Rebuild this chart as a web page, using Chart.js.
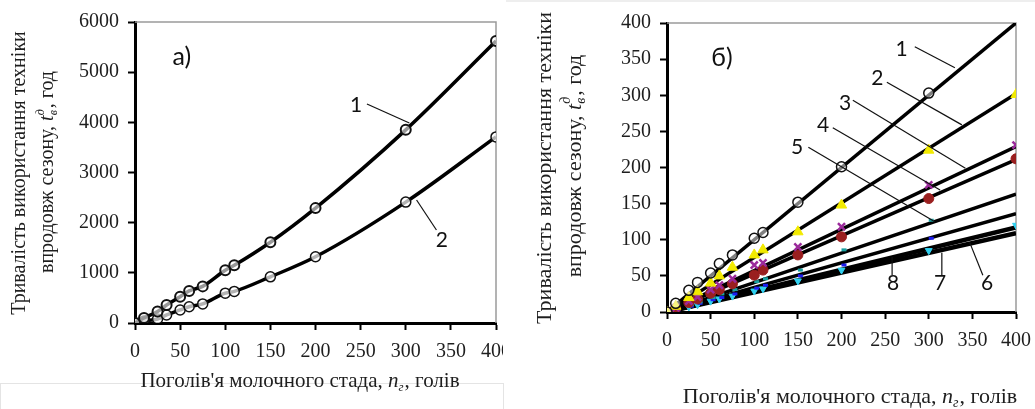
<!DOCTYPE html>
<html>
<head>
<meta charset="utf-8">
<script src="https://cdn.jsdelivr.net/npm/chart.js@4.4.1/dist/chart.umd.min.js"></script>
<style>
    html, body { margin: 0; padding: 0; background: #fff; }
    body { width: 1035px; height: 409px; position: relative; overflow: hidden; }
    #chartA { position: absolute; left: 0; top: 0; }
    #chartB { position: absolute; left: 505px; top: 0; }
    .frame { position: absolute; left: 0; top: 383px; width: 502px; height: 40px; border: 1px solid #e4e4e4; }
    .topline { position: absolute; left: 506px; top: 0; width: 529px; height: 2px; background: #eee; }
</style>
</head>
<body>
<div class="frame"></div>
<div class="topline"></div>
<canvas id="chartA" width="503" height="409"></canvas>
<canvas id="chartB" width="530" height="409"></canvas>
<script>
        // ---- data: chart a) ----
        const herdA = [0, 10, 25, 35, 50, 60, 75, 100, 110, 150, 200, 300, 400];
        const timeA1 = [0, 100, 230, 360, 525, 640, 730, 1050, 1150, 1610, 2290, 3850, 5620];
        const timeA2 = [0, 40, 80, 160, 260, 325, 380, 595, 630, 920, 1320, 2410, 3710];

        // ---- data: chart б) ----
        const herdB = [0, 10, 25, 35, 50, 60, 75, 100, 110, 150, 200, 300, 400];
        const timeB1 = [0, 12, 30, 41, 54, 67, 79, 102, 110, 152, 201, 303, null];
        const timeB2 = [0, 8, 20, 28, 40, 50, 62, 79, 86, 111, 148, 224, 301];
        const timeB3 = [0, 6, 15, 21, 31, 37, 46, 65, 68, 90, 118, 176, 231];
        const timeB4 = [0, 5, 13, 18, 26, 31, 39, 51, 58, 79, 104, 157, 212];
        const timeB5 = [0, 4, 10, 14, 20, 25, 31, 42, 46, 58, 86, 127, 162];
        const timeB6 = [0, 3, 8, 12, 17, 20, 25, 33, 37, 50, 65, 102, 135];
        const timeB7 = [0, 3, 7, 10, 15, 18, 22, 29, 32, 43, 58, 85, 120];
        // trend lines of chart б): value at herd 0 and herd 400
        const trendX = [0, 400];
        const trendB = [[0, 400], [0, 302], [0, 229], [0, 211], [0, 163], [0, 136], [0, 117], [0, 109]];

        const serif = '"Liberation Serif", "Times New Roman", serif';
        const ink = '#1e1e1e';

        Chart.defaults.font.family = serif;
        Chart.defaults.font.size = 20;
        Chart.defaults.color = ink;

        const xy = (xs, ys) => xs.map((x, i) => ({ x: x, y: ys[i] }));

        // text with italic parts and stacked sub/superscripts
        function drawRich(ctx, segs, cx, cy, size) {
            const base = size + 'px ' + serif;
            const ital = 'italic ' + base;
            const small = 'italic ' + Math.round(size * 0.62) + 'px ' + serif;
            const widths = segs.map(s => {
                if (s.sub !== undefined) {
                    ctx.font = small;
                    return Math.max(ctx.measureText(s.sup || '').width, ctx.measureText(s.sub).width) + 1;
                }
                ctx.font = s.i ? ital : base;
                return ctx.measureText(s.t).width;
            });
            let x = cx - widths.reduce((a, b) => a + b, 0) / 2;
            ctx.textAlign = 'left';
            ctx.textBaseline = 'middle';
            segs.forEach((s, k) => {
                if (s.sub !== undefined) {
                    ctx.font = small;
                    if (s.sup) ctx.fillText(s.sup, x, cy - size * 0.38);
                    ctx.fillText(s.sub, x, cy + size * 0.3);
                } else {
                    ctx.font = s.i ? ital : base;
                    ctx.fillText(s.t, x, cy);
                }
                x += widths[k];
            });
        }

        const xTitle = [{ t: "Поголів'я молочного стада, " }, { t: 'n', i: true }, { sub: 'г' }, { t: ', голів' }];
        const yTitle1 = [{ t: 'Тривалість використання техніки' }];
        const yTitle2 = [{ t: 'впродовж сезону, ' }, { t: 't', i: true }, { sup: 'д', sub: 'в' }, { t: ', год' }];

        // frame (thin grey top and right edge) + titles + labels
        const decor = {
            id: 'decor',
            beforeDatasetsDraw(chart) {
                const { ctx, chartArea: a } = chart;
                ctx.save();
                ctx.strokeStyle = '#9a9a9a';
                ctx.lineWidth = 1.5;
                ctx.beginPath();
                ctx.moveTo(a.left, a.top);
                ctx.lineTo(a.right, a.top);
                ctx.lineTo(a.right, a.bottom);
                ctx.stroke();
                ctx.restore();
            },
            afterDraw(chart, args, o) {
                const { ctx, scales: { x, y } } = chart;
                ctx.save();
                ctx.fillStyle = ink;
                drawRich(ctx, xTitle, o.xTitle[0], o.xTitle[1], o.xSize);
                [[yTitle1, o.yTitle[0]], [yTitle2, o.yTitle[1]]].forEach(([segs, p]) => {
                    ctx.save();
                    ctx.translate(p[0], p[1]);
                    ctx.rotate(-Math.PI / 2);
                    drawRich(ctx, segs, 0, 0, o.ySize);
                    ctx.restore();
                });
                // leader lines
                ctx.strokeStyle = '#111';
                ctx.lineWidth = 1.2;
                o.leaders.forEach(l => {
                    ctx.beginPath();
                    ctx.moveTo(x.getPixelForValue(l[0]), y.getPixelForValue(l[1]));
                    ctx.lineTo(x.getPixelForValue(l[2]), y.getPixelForValue(l[3]));
                    ctx.stroke();
                });
                ctx.textAlign = 'center';
                ctx.textBaseline = 'middle';
                ctx.fillStyle = '#111';
                o.labels.forEach(l => {
                    ctx.font = l[3] + 'px Lato, "Open Sans", sans-serif';
                    ctx.fillText(l[0], x.getPixelForValue(l[1]), y.getPixelForValue(l[2]));
                });
                ctx.restore();
            }
        };

        function axes(xMax, yMax, yStep, yWidth, xHeight) {
            const tickFont = { family: serif, size: 20 };
            const grid = { drawOnChartArea: false, drawTicks: true, tickLength: 7, tickColor: '#000', tickWidth: 2 };
            const border = { display: true, color: '#000', width: 3 };
            return {
                x: {
                    type: 'linear', min: 0, max: xMax, border: border, grid: grid,
                    ticks: { font: tickFont, color: ink, stepSize: 50, padding: 10, maxRotation: 0, autoSkip: false,
                             callback: v => String(v) },
                    afterFit(s) { s.height = xHeight; s.paddingRight = 0; s.paddingLeft = 0; }
                },
                y: {
                    type: 'linear', min: 0, max: yMax, border: border, grid: grid,
                    ticks: { font: tickFont, color: ink, stepSize: yStep, padding: 9, callback: v => String(v) },
                    afterFit(s) { s.width = yWidth; }
                }
            };
        }

        // Chart a)
        new Chart(document.getElementById('chartA'), {
            type: 'scatter',
            data: {
                datasets: [
                    { data: xy(herdA, timeA1), showLine: true, borderColor: '#000', borderWidth: 3.5, cubicInterpolationMode: 'monotone',
                      pointStyle: 'circle', pointRadius: 5, pointBorderWidth: 2, pointBorderColor: '#111', pointBackgroundColor: 'rgba(255,255,255,0.6)' },
                    { data: xy(herdA, timeA2), showLine: true, borderColor: '#000', borderWidth: 3.5, cubicInterpolationMode: 'monotone',
                      pointStyle: 'circle', pointRadius: 5, pointBorderWidth: 1.5, pointBorderColor: '#111', pointBackgroundColor: 'rgba(255,255,255,0.7)' }
                ]
            },
            options: {
                responsive: false,
                animation: false,
                layout: { padding: { left: 0, top: 22, right: 6, bottom: 0 } },
                scales: axes(400, 6000, 1000, 135, 86),
                plugins: {
                    legend: { display: false },
                    tooltip: { enabled: false },
                    decor: {
                        xSize: 21, ySize: 20,
                        xTitle: [300, 381],
                        yTitle: [[20, 173], [48, 172]],
                        leaders: [[257, 4365, 304, 3986], [334, 1854, 312, 2452]],
                        labels: [['а)', 52, 5302, 25], ['1', 245, 4345, 21], ['2', 340, 1654, 21]]
                    }
                }
            },
            plugins: [decor]
        });

        // Chart б)
        const markerSets = [
            { d: timeB1, style: 'circle', r: 5, fill: 'rgba(255,255,255,0.5)', edge: '#111', w: 1.5 },
            { d: timeB2, style: 'triangle', r: 6, fill: '#f2ea00', edge: '#f2ea00', w: 1 },
            { d: timeB3, style: 'crossRot', r: 5, fill: '#9b2a9b', edge: '#9b2a9b', w: 2.5 },
            { d: timeB4, style: 'circle', r: 5, fill: '#9a1f1f', edge: '#9a1f1f', w: 1 },
            { d: timeB5, style: 'dash', r: 5, fill: '#1aa0a0', edge: '#1aa0a0', w: 3 },
            { d: timeB6, style: 'dash', r: 5, fill: '#1c1cf0', edge: '#1c1cf0', w: 3 },
            { d: timeB7, style: 'triangle', r: 4, fill: '#30d0f0', edge: '#30d0f0', w: 1, rot: 180 }
        ];
        const trendSets = trendB.map((t, i) => ({
            data: xy(trendX, t), showLine: true, borderColor: '#000', borderWidth: i >= 6 ? 4.5 : 3.5,
            pointRadius: 0, order: 2
        }));
        const pointSets = markerSets.map(m => ({
            data: xy(herdB, m.d), showLine: false, pointStyle: m.style, pointRadius: m.r,
            pointBackgroundColor: m.fill, pointBorderColor: m.edge, pointBorderWidth: m.w,
            pointRotation: m.rot || 0, order: 1
        }));

        new Chart(document.getElementById('chartB'), {
            type: 'scatter',
            data: { datasets: trendSets.concat(pointSets) },
            options: {
                responsive: false,
                animation: false,
                layout: { padding: { left: 0, top: 23, right: 19, bottom: 0 } },
                scales: axes(400, 400, 50, 162, 97),
                plugins: {
                    legend: { display: false },
                    tooltip: { enabled: false },
                    decor: {
                        xSize: 22, ySize: 22,
                        xTitle: [345, 397],
                        yTitle: [[40, 168], [70, 166]],
                        leaders: [
                            [284, 367, 330, 338], [252, 318, 338, 259], [213, 293, 342, 199],
                            [190, 255, 313, 169], [162, 228, 307, 125],
                            [258, 51, 258, 76], [315, 51, 315, 82], [362, 51, 347, 96]
                        ],
                        labels: [
                            ['б)', 63, 352, 25],
                            ['1', 269, 364, 21], ['2', 241, 324, 21], ['3', 204, 289, 21],
                            ['4', 179, 259, 21], ['5', 149, 228, 21],
                            ['8', 259, 40, 21], ['7', 313, 40, 21], ['6', 367, 40, 21]
                        ]
                    }
                }
            },
            plugins: [decor]
        });
</script>
</body>
</html>
